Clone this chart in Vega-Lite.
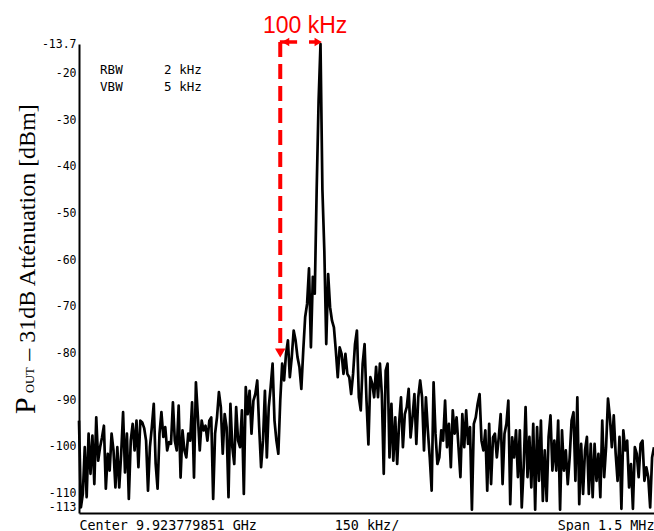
{
"$schema": "https://vega.github.io/schema/vega-lite/v6.json",
"width": 575, "height": 469,
"autosize": "none",
"padding": {"left": 79, "top": 44, "right": 0, "bottom": 18},
"background": "white",
"config": {"view": {"stroke": null}, "axis": {"grid": false, "ticks": false, "domainColor": "black", "domainWidth": 2, "labelColor": "black", "labelFont": "DejaVu Sans Mono"}},
"layer": [
{"data": {"values": [
{"f":-750,"p":-94.4},{"f":-745,"p":-113.0},{"f":-740,"p":-110.1},{"f":-735,"p":-100.1},{"f":-730,"p":-110.8},{"f":-725,"p":-97.2},{"f":-720,"p":-105.8},{"f":-715,"p":-97.6},{"f":-710,"p":-108.0},{"f":-705,"p":-93.7},
{"f":-700,"p":-103.0},{"f":-695,"p":-100.1},{"f":-690,"p":-98.0},{"f":-685,"p":-95.5},{"f":-680,"p":-109.0},{"f":-675,"p":-101.5},{"f":-670,"p":-105.1},{"f":-665,"p":-97.2},{"f":-660,"p":-100.8},{"f":-655,"p":-108.7},
{"f":-650,"p":-100.1},{"f":-645,"p":-108.7},{"f":-640,"p":-101.5},{"f":-635,"p":-92.6},{"f":-630,"p":-105.5},{"f":-625,"p":-97.2},{"f":-620,"p":-111.2},{"f":-615,"p":-98.7},{"f":-610,"p":-95.1},{"f":-605,"p":-100.8},
{"f":-600,"p":-94.4},{"f":-595,"p":-104.4},{"f":-590,"p":-94.4},{"f":-585,"p":-94.8},{"f":-580,"p":-96.0},{"f":-575,"p":-98.7},{"f":-570,"p":-109.4},{"f":-565,"p":-100.1},{"f":-560,"p":-95.8},{"f":-555,"p":-90.8},
{"f":-550,"p":-103.7},{"f":-545,"p":-109.0},{"f":-540,"p":-97.2},{"f":-535,"p":-92.6},{"f":-530,"p":-97.9},{"f":-525,"p":-95.8},{"f":-520,"p":-100.8},{"f":-515,"p":-99.0},{"f":-510,"p":-99.4},{"f":-505,"p":-90.5},
{"f":-500,"p":-98.7},{"f":-495,"p":-100.8},{"f":-490,"p":-91.2},{"f":-485,"p":-106.6},{"f":-480,"p":-96.5},{"f":-475,"p":-100.8},{"f":-470,"p":-102.3},{"f":-465,"p":-97.2},{"f":-460,"p":-98.7},{"f":-455,"p":-90.5},
{"f":-450,"p":-106.6},{"f":-445,"p":-86.2},{"f":-440,"p":-93.3},{"f":-435,"p":-100.8},{"f":-430,"p":-94.4},{"f":-425,"p":-96.5},{"f":-420,"p":-95.5},{"f":-415,"p":-98.7},{"f":-410,"p":-94.4},{"f":-405,"p":-93.7},
{"f":-400,"p":-111.2},{"f":-395,"p":-97.2},{"f":-390,"p":-93.7},{"f":-385,"p":-88.3},{"f":-380,"p":-91.5},{"f":-375,"p":-101.5},{"f":-370,"p":-93.0},{"f":-365,"p":-95.8},{"f":-360,"p":-110.8},{"f":-355,"p":-90.8},
{"f":-350,"p":-100.1},{"f":-345,"p":-103.7},{"f":-340,"p":-91.5},{"f":-335,"p":-98.7},{"f":-330,"p":-100.1},{"f":-325,"p":-92.2},{"f":-320,"p":-110.1},{"f":-315,"p":-87.2},{"f":-310,"p":-93.0},{"f":-305,"p":-88.0},
{"f":-300,"p":-97.2},{"f":-295,"p":-90.1},{"f":-290,"p":-88.7},{"f":-285,"p":-85.8},{"f":-280,"p":-95.8},{"f":-275,"p":-104.4},{"f":-270,"p":-98.7},{"f":-265,"p":-88.0},{"f":-260,"p":-102.3},{"f":-255,"p":-91.5},
{"f":-250,"p":-87.2},{"f":-245,"p":-82.2},{"f":-240,"p":-94.4},{"f":-235,"p":-98.7},{"f":-230,"p":-101.5},{"f":-225,"p":-90.1},{"f":-220,"p":-82.2},{"f":-215,"p":-85.8},{"f":-210,"p":-80.1},{"f":-205,"p":-77.2},
{"f":-200,"p":-85.1},{"f":-195,"p":-80.8},{"f":-190,"p":-75.1},{"f":-185,"p":-77.2},{"f":-180,"p":-80.8},{"f":-175,"p":-82.9},{"f":-170,"p":-87.6},{"f":-165,"p":-79.4},{"f":-160,"p":-72.2},{"f":-155,"p":-69.4},
{"f":-150,"p":-61.8},{"f":-145,"p":-78.7},{"f":-140,"p":-63.6},{"f":-135,"p":-67.2},{"f":-130,"p":-45.0},{"f":-125,"p":-26.0},{"f":-120,"p":-13.7},{"f":-115,"p":-45.0},{"f":-110,"p":-58.0},{"f":-105,"p":-78.0},
{"f":-100,"p":-63.0},{"f":-95,"p":-70.1},{"f":-90,"p":-73.0},{"f":-85,"p":-74.4},{"f":-80,"p":-79.4},{"f":-75,"p":-85.1},{"f":-70,"p":-78.7},{"f":-65,"p":-80.1},{"f":-60,"p":-84.4},{"f":-55,"p":-80.1},
{"f":-50,"p":-84.4},{"f":-45,"p":-85.1},{"f":-40,"p":-88.7},{"f":-35,"p":-84.4},{"f":-30,"p":-78.0},{"f":-25,"p":-75.1},{"f":-20,"p":-89.4},{"f":-15,"p":-92.2},{"f":-10,"p":-82.2},{"f":-5,"p":-78.0},
{"f":0,"p":-90.1},{"f":5,"p":-99.5},{"f":10,"p":-85.1},{"f":15,"p":-86.5},{"f":20,"p":-89.4},{"f":25,"p":-82.9},{"f":30,"p":-89.4},{"f":35,"p":-82.2},{"f":40,"p":-88.7},{"f":45,"p":-105.8},
{"f":50,"p":-83.7},{"f":55,"p":-82.2},{"f":60,"p":-102.3},{"f":65,"p":-90.8},{"f":70,"p":-103.0},{"f":75,"p":-93.7},{"f":80,"p":-103.7},{"f":85,"p":-95.1},{"f":90,"p":-89.4},{"f":95,"p":-100.1},
{"f":100,"p":-93.0},{"f":105,"p":-91.5},{"f":110,"p":-87.6},{"f":115,"p":-98.0},{"f":120,"p":-93.7},{"f":125,"p":-88.7},{"f":130,"p":-99.4},{"f":135,"p":-89.4},{"f":140,"p":-85.8},{"f":145,"p":-89.4},
{"f":150,"p":-100.8},{"f":155,"p":-89.4},{"f":160,"p":-96.5},{"f":165,"p":-102.3},{"f":170,"p":-109.4},{"f":175,"p":-86.2},{"f":180,"p":-97.2},{"f":185,"p":-103.7},{"f":190,"p":-102.3},{"f":195,"p":-96.5},
{"f":200,"p":-98.7},{"f":205,"p":-90.1},{"f":210,"p":-100.1},{"f":215,"p":-95.1},{"f":220,"p":-104.4},{"f":225,"p":-92.2},{"f":230,"p":-97.2},{"f":235,"p":-93.7},{"f":240,"p":-100.1},{"f":245,"p":-106.5},
{"f":250,"p":-93.0},{"f":255,"p":-100.1},{"f":260,"p":-92.2},{"f":265,"p":-99.4},{"f":270,"p":-95.8},{"f":275,"p":-113.5},{"f":280,"p":-95.1},{"f":285,"p":-93.7},{"f":290,"p":-90.8},{"f":295,"p":-88.7},
{"f":300,"p":-98.7},{"f":305,"p":-100.8},{"f":310,"p":-96.5},{"f":315,"p":-109.4},{"f":320,"p":-95.1},{"f":325,"p":-108.0},{"f":330,"p":-98.0},{"f":335,"p":-97.2},{"f":340,"p":-102.3},{"f":345,"p":-98.0},
{"f":350,"p":-93.0},{"f":355,"p":-108.0},{"f":360,"p":-97.2},{"f":365,"p":-95.1},{"f":370,"p":-90.1},{"f":375,"p":-112.3},{"f":380,"p":-98.0},{"f":385,"p":-102.3},{"f":390,"p":-96.5},{"f":395,"p":-106.5},
{"f":400,"p":-96.5},{"f":405,"p":-113.0},{"f":410,"p":-104.4},{"f":415,"p":-91.5},{"f":420,"p":-106.5},{"f":425,"p":-97.9},{"f":430,"p":-108.7},{"f":435,"p":-95.1},{"f":440,"p":-113.5},{"f":445,"p":-95.8},
{"f":450,"p":-107.3},{"f":455,"p":-94.4},{"f":460,"p":-111.6},{"f":465,"p":-100.8},{"f":470,"p":-111.6},{"f":475,"p":-97.9},{"f":480,"p":-93.3},{"f":485,"p":-105.1},{"f":490,"p":-98.7},{"f":495,"p":-105.1},
{"f":500,"p":-94.4},{"f":505,"p":-113.5},{"f":510,"p":-96.5},{"f":515,"p":-105.1},{"f":520,"p":-100.8},{"f":525,"p":-108.0},{"f":530,"p":-102.3},{"f":535,"p":-94.4},{"f":540,"p":-92.6},{"f":545,"p":-107.3},
{"f":550,"p":-89.4},{"f":555,"p":-112.3},{"f":560,"p":-99.4},{"f":565,"p":-110.1},{"f":570,"p":-100.8},{"f":575,"p":-97.9},{"f":580,"p":-110.1},{"f":585,"p":-99.4},{"f":590,"p":-110.8},{"f":595,"p":-99.4},
{"f":600,"p":-107.3},{"f":605,"p":-101.5},{"f":610,"p":-110.8},{"f":615,"p":-94.4},{"f":620,"p":-106.5},{"f":625,"p":-100.1},{"f":630,"p":-89.7},{"f":635,"p":-93.7},{"f":640,"p":-100.1},{"f":645,"p":-93.3},
{"f":650,"p":-101.5},{"f":655,"p":-107.3},{"f":660,"p":-97.9},{"f":665,"p":-113.3},{"f":670,"p":-96.5},{"f":675,"p":-100.8},{"f":680,"p":-98.7},{"f":685,"p":-108.7},{"f":690,"p":-103.7},{"f":695,"p":-113.3},
{"f":700,"p":-100.1},{"f":705,"p":-101.5},{"f":710,"p":-106.5},{"f":715,"p":-99.4},{"f":720,"p":-98.7},{"f":725,"p":-107.3},{"f":730,"p":-104.4},{"f":735,"p":-106.5},{"f":740,"p":-113.0},{"f":745,"p":-102.3},
{"f":750,"p":-100.1}
]},
 "mark": {"type": "line", "color": "black", "strokeWidth": 2.7, "strokeJoin": "round"},
 "encoding": {
  "x": {"field": "f", "type": "quantitative", "title": null, "scale": {"domain": [-750, 750], "nice": false, "zero": false},
        "axis": {"values": [-750, 0, 750], "labelExpr": "datum.value < -700 ? 'Center 9.923779851 GHz' : (datum.value > 700 ? 'Span 1.5 MHz' : '150 kHz/')", "labelFlush": true, "labelFontSize": 13.4, "labelPadding": 5, "labelOverlap": false, "title": null}},
  "y": {"field": "p", "type": "quantitative", "title": null, "scale": {"domain": [-114.2, -13.7], "nice": false, "zero": false},
        "axis": {"values": [-13.7, -20, -30, -40, -50, -60, -70, -80, -90, -100, -110, -113], "labelExpr": "(datum.value < 0 ? '-' : '') + format(abs(datum.value), '~g')", "labelFontSize": 11.5, "labelPadding": 3, "labelOverlap": false, "title": null}}
 }},
{"data": {"values": [{"f": -225, "p": -13.27, "p2": -78.8}]},
 "mark": {"type": "rule", "color": "#ff0000", "strokeWidth": 4, "strokeDash": [15, 7]},
 "encoding": {"x": {"field": "f", "type": "quantitative", "title": null}, "y": {"field": "p", "type": "quantitative", "title": null}, "y2": {"field": "p2"}}},
{"data": {"values": [{"f": -226, "f2": -181, "p": -13.27}, {"f": -150, "f2": -128, "p": -13.27}]},
 "mark": {"type": "rule", "color": "#ff0000", "strokeWidth": 3.5},
 "encoding": {"x": {"field": "f", "type": "quantitative", "title": null}, "x2": {"field": "f2"}, "y": {"field": "p", "type": "quantitative", "title": null}}},
{"data": {"values": [{"f": -225, "p": -79.9}]},
 "mark": {"type": "point", "shape": "triangle-down", "filled": true, "color": "#ff0000", "size": 110, "opacity": 1},
 "encoding": {"x": {"field": "f", "type": "quantitative", "title": null}, "y": {"field": "p", "type": "quantitative", "title": null}}},
{"data": {"values": [{"f": -211, "p": -13.27}]},
 "mark": {"type": "point", "shape": "triangle-left", "filled": true, "color": "#ff0000", "size": 70, "opacity": 1},
 "encoding": {"x": {"field": "f", "type": "quantitative", "title": null}, "y": {"field": "p", "type": "quantitative", "title": null}}},
{"data": {"values": [{"f": -126, "p": -13.27}]},
 "mark": {"type": "point", "shape": "triangle-right", "filled": true, "color": "#ff0000", "size": 70, "opacity": 1},
 "encoding": {"x": {"field": "f", "type": "quantitative", "title": null}, "y": {"field": "p", "type": "quantitative", "title": null}}},
{"data": {"values": [{"f": -160, "p": -11.34, "t": "100 kHz"}]},
 "mark": {"type": "text", "color": "#ff0000", "font": "Liberation Sans", "fontSize": 23, "align": "center", "baseline": "alphabetic"},
 "encoding": {"x": {"field": "f", "type": "quantitative", "title": null}, "y": {"field": "p", "type": "quantitative", "title": null}, "text": {"field": "t"}}},
{"data": {"values": [{"f": -695, "p": -20.1, "t": "RBW"}, {"f": -695, "p": -23.8, "t": "VBW"}, {"f": -528, "p": -20.1, "t": "2 kHz"}, {"f": -528, "p": -23.8, "t": "5 kHz"}]},
 "mark": {"type": "text", "color": "black", "font": "DejaVu Sans Mono", "fontSize": 12.5, "align": "left", "baseline": "alphabetic"},
 "encoding": {"x": {"field": "f", "type": "quantitative", "title": null}, "y": {"field": "p", "type": "quantitative", "title": null}, "text": {"field": "t"}}},
{"data": {"values": [{"f": -864.8, "p": -93.0, "t": "P"}]},
 "mark": {"type": "text", "color": "black", "font": "Liberation Serif", "fontSize": 30, "angle": 270, "align": "left", "baseline": "alphabetic"},
 "encoding": {"x": {"field": "f", "type": "quantitative", "title": null}, "y": {"field": "p", "type": "quantitative", "title": null}, "text": {"field": "t"}}},
{"data": {"values": [{"f": -868, "p": -88.5, "t": "OUT"}]},
 "mark": {"type": "text", "color": "black", "font": "Liberation Serif", "fontSize": 12.5, "angle": 270, "align": "left", "baseline": "alphabetic"},
 "encoding": {"x": {"field": "f", "type": "quantitative", "title": null}, "y": {"field": "p", "type": "quantitative", "title": null}, "text": {"field": "t"}}},
{"data": {"values": [{"f": -864.8, "p": -81.6, "t": "– 31dB Atténuation [dBm]"}]},
 "mark": {"type": "text", "color": "black", "font": "Liberation Serif", "fontSize": 24, "angle": 270, "align": "left", "baseline": "alphabetic"},
 "encoding": {"x": {"field": "f", "type": "quantitative", "title": null}, "y": {"field": "p", "type": "quantitative", "title": null}, "text": {"field": "t"}}}
]
}
